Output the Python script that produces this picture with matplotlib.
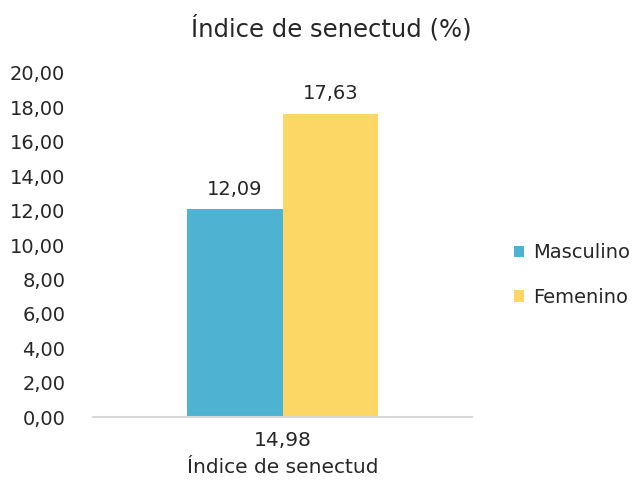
import numpy as np
import matplotlib.pyplot as plt
from matplotlib.ticker import FuncFormatter

plt.rcParams['font.family'] = ['DejaVu Sans']

# data
title = "Índice de senectud (%)"
category = "14,98\nÍndice de senectud"
series = ["Masculino", "Femenino"]
values = [12.09, 17.63]
colors = ["#4eb3d3", "#fdd766"]
yticks = np.arange(0, 21, 2)

fig = plt.figure(figsize=(6.44, 4.86), dpi=100)
ax = fig.add_axes([93/644, 1 - 417/486, 379/644, 344/486])

w = 0.253
offs = [-w/2, w/2]
for name, v, c, o in zip(series, values, colors, offs):
    ax.bar(o, v, width=w, color=c, label=name)
    ax.text(o, v + 0.6, f"{v:.2f}".replace(".", ","), ha="center", va="bottom",
            fontsize=14, color="#262626")

ax.set_xlim(-0.5, 0.5)
ax.set_ylim(0, 20)
ax.set_yticks(yticks)
ax.yaxis.set_major_formatter(FuncFormatter(lambda y, p: f"{y:.2f}".replace(".", ",")))
ax.set_xticks([0])
ax.set_xticklabels([category], fontsize=14.5, color="#262626", linespacing=1.55)
ax.tick_params(axis="y", length=0, pad=20, labelsize=14, labelcolor="#262626")
ax.tick_params(axis="x", length=0, pad=10)
for s in ["top", "right", "left"]:
    ax.spines[s].set_visible(False)
ax.spines["bottom"].set_color("#d9d9d9")
ax.spines["bottom"].set_linewidth(1.5)

fig.text(331/644, 1 - 28/486, title, ha="center", va="center", fontsize=17.5, color="#262626")

leg = ax.legend(loc="center left", bbox_to_anchor=(496/644, 1 - 275/486),
                bbox_transform=fig.transFigure, frameon=False, fontsize=14,
                handlelength=0.55, handleheight=0.55, handletextpad=0.45, labelspacing=1.3)
for t in leg.get_texts():
    t.set_color("#262626")

fig.savefig("out.png", dpi=100)
